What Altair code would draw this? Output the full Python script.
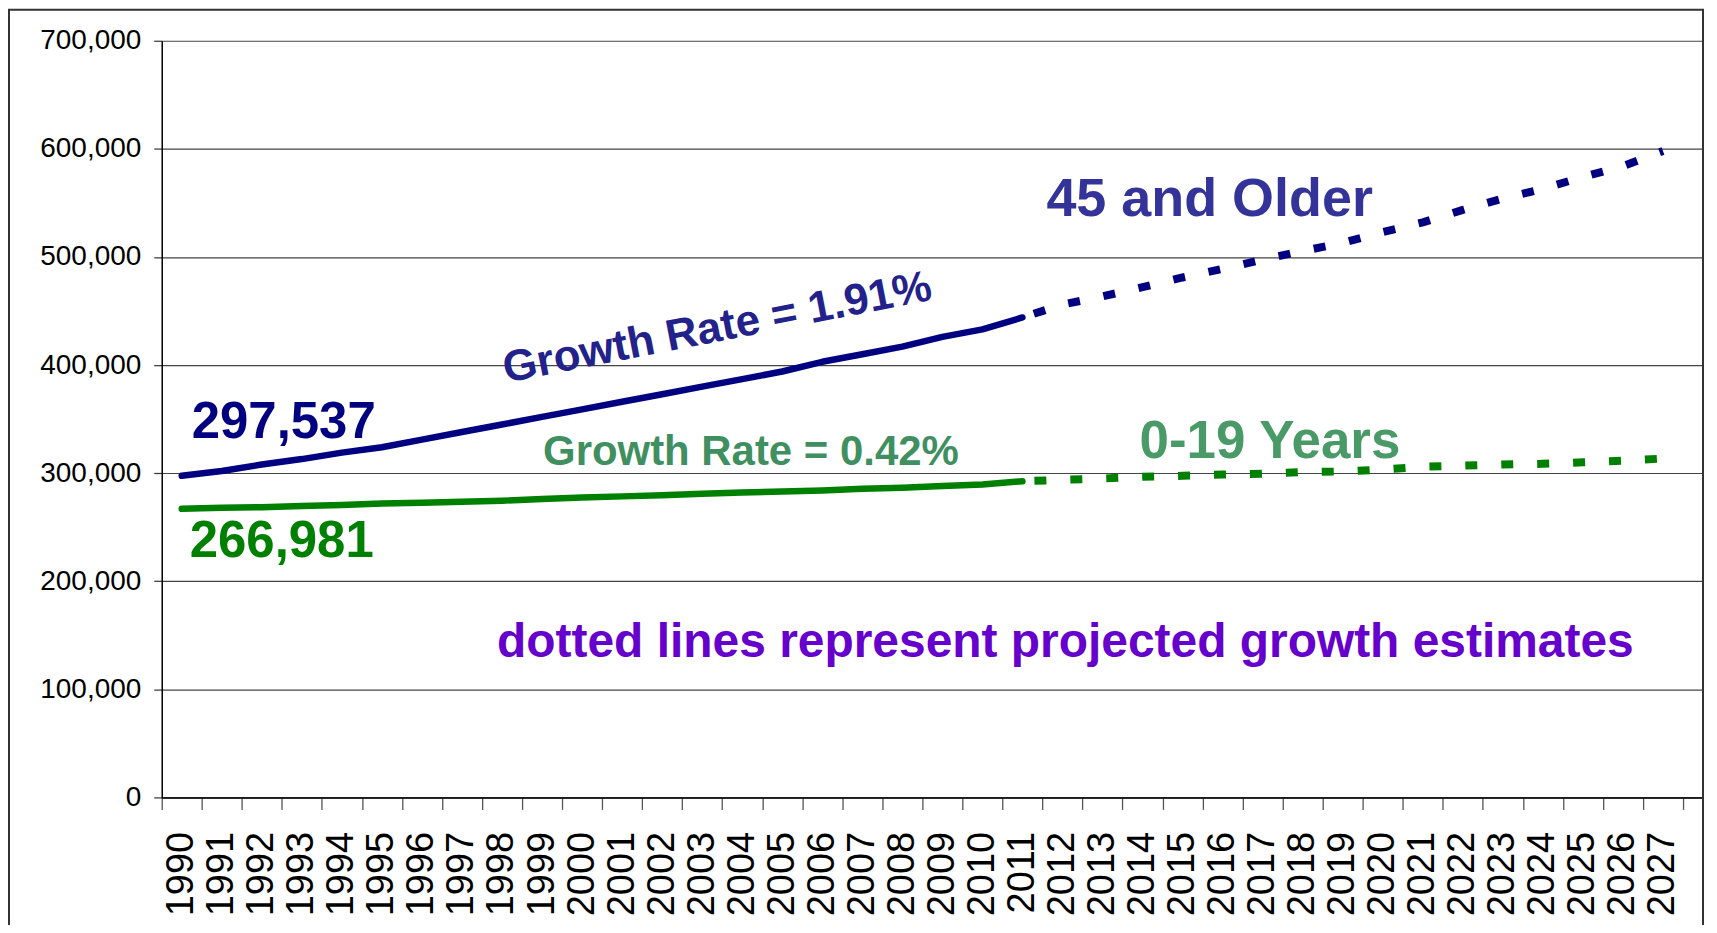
import altair as alt
import pandas as pd

# ---- data ----
years = [str(y) for y in range(1990, 2028)]
actual_years = years[:22]          # 1990-2011
proj_years = years[21:]            # 2011-2027

older_actual = [297537, 302000, 308000, 313000, 319000, 324000, 331000, 338000,
                345000, 352000, 359000, 366000, 373000, 380000, 387000, 394000,
                403000, 410000, 417000, 426000, 433000, 444000]
older_proj = [444000, 456000, 463500, 472000, 481000, 489000, 497500, 505500,
              513000, 523000, 532000, 543500, 554000, 563000, 574000, 584000, 598000]
young_actual = [266981, 268000, 268500, 269500, 270500, 272000, 272500, 273500,
                274500, 276000, 277500, 278500, 279500, 281000, 282000, 283000,
                284000, 285500, 286500, 288000, 289500, 292500]
young_proj = [292500, 293800, 295000, 296600, 297500, 298700, 299500, 301000,
              301500, 303300, 306000, 307000, 308000, 308600, 310000, 311500, 313500]

y_ticks = [0, 100000, 200000, 300000, 400000, 500000, 600000, 700000]

series_names = ["older_actual", "older_proj", "young_actual", "young_proj"]
series_colors = ["#000080", "#000080", "#008000", "#008000"]

# annotations: text, anchor year, anchor value
ann_text = ["297,537", "266,981", "45 and Older", "0-19 Years",
            "Growth Rate = 1.91%", "Growth Rate = 0.42%",
            "dotted lines represent projected growth estimates"]
ann_year = ["1990", "1990", "2011", "2014", "1998", "1999", "1998"]
ann_value = [332500, 222600, 537500, 314000, 383000, 307500, 130000]

rows = []
for name, yrs, vals in [("older_actual", actual_years, older_actual),
                        ("older_proj", proj_years, older_proj),
                        ("young_actual", actual_years, young_actual),
                        ("young_proj", proj_years, young_proj)]:
    for yr, v in zip(yrs, vals):
        rows.append({"year": yr, "value": v, "series": name})
df = pd.DataFrame(rows)

SANS = "Liberation Sans, Arial, sans-serif"

x_enc = alt.X(
    "year:O",
    scale=alt.Scale(type="band", domain=years, paddingInner=0,
                    paddingOuter=0.25, align=0),
    axis=alt.Axis(title=None, labelAngle=270, labelFont=SANS, labelFontSize=38,
                  labelColor="black", tickBand="extent", tickSize=12,
                  tickColor="#555555", tickWidth=1.3, domainColor="black",
                  domainWidth=1.5, labelPadding=22, labelOverlap=False,
                  grid=False),
)
y_enc = alt.Y(
    "value:Q",
    scale=alt.Scale(domain=[0, 700000], nice=False),
    axis=alt.Axis(title=None, values=y_ticks, format=",d", labelFont=SANS,
                  labelFontSize=28, labelColor="black", tickSize=8,
                  tickColor="#333333", tickWidth=1.2, labelPadding=13,
                  grid=True, gridColor="#444444", gridWidth=1.2,
                  domainColor="black", domainWidth=1.5),
)

base = alt.Chart(df)
layers = []
for name, color in zip(series_names, series_colors):
    if name.endswith("actual"):
        mk = base.mark_line(color=color, strokeWidth=6.5, strokeCap="round",
                            strokeJoin="round")
    else:
        mk = base.mark_line(color=color, strokeWidth=8, strokeDash=[12, 24],
                            strokeDashOffset=24, strokeCap="butt")
    layers.append(mk.encode(x=x_enc, y=y_enc).transform_filter(
        alt.datum.series == name))

ann_style = [
    dict(color="#000080", fontSize=51, dx=10, angle=0),
    dict(color="#008000", fontSize=51, dx=8, angle=0),
    dict(color="#333399", fontSize=54, dx=24, angle=0),
    dict(color="#4a9a68", fontSize=53, dx=-3, angle=0),
    dict(color="#22228a", fontSize=44, dx=4, angle=349),
    dict(color="#3f8f60", fontSize=42, dx=1, angle=0),
    dict(color="#6600cc", fontSize=48, dx=-5, angle=0),
]
for t, yr, v, st in zip(ann_text, ann_year, ann_value, ann_style):
    d = pd.DataFrame({"year": [yr], "value": [v], "label": [t]})
    layers.append(
        alt.Chart(d).mark_text(align="left", baseline="alphabetic",
                               fontWeight="bold", font=SANS, **st)
        .encode(x=x_enc, y=y_enc, text="label:N")
    )

# outer frame of the picture
frame = alt.Chart(pd.DataFrame({"k": [0]})).mark_rect(
    fillOpacity=0, stroke="#333333", strokeWidth=2
).encode(x=alt.value(-153), x2=alt.value(1544), y=alt.value(-31),
         y2=alt.value(1000))
layers.append(frame)

chart = alt.layer(*layers).properties(
    width=1544, height=758,
    autosize=alt.AutoSizeParams(type="none"),
    padding={"left": 154, "top": 32, "right": 6, "bottom": 127},
).configure_view(strokeWidth=0)

chart.save("out.html", embed_options={"renderer": "svg", "actions": False})
